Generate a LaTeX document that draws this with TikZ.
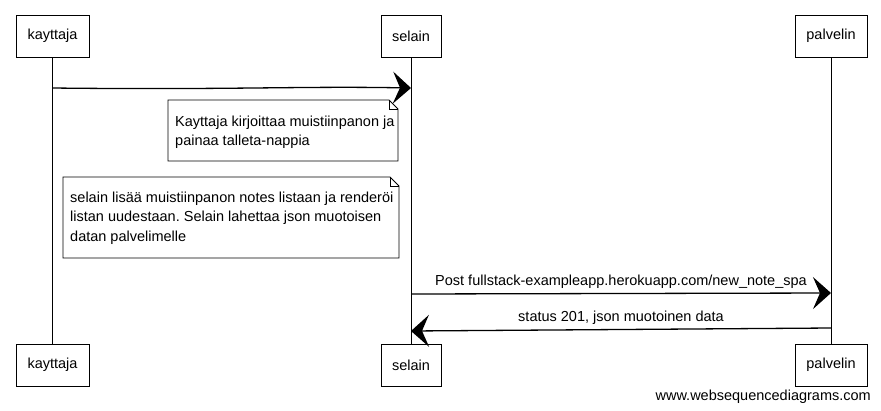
\documentclass[tikz,border=0pt]{standalone}
\usepackage{fontspec}
\setmainfont{Liberation Sans}
\usetikzlibrary{arrows.meta}
\frenchspacing
\begin{document}
\begin{tikzpicture}[x=1pt,y=-1pt,
  actor/.style={draw, line width=0.9pt, minimum height=42pt, inner sep=0pt, font=\fontsize{14.5}{17}\selectfont},
  life/.style={line width=0.8pt},
  msg/.style={line width=1.3pt, -{Stealth[length=18pt,width=32pt,inset=7pt]}},
  notetext/.style={inner sep=0pt, align=left, font=\fontsize{14.5}{19.5}\selectfont, anchor=west},
  noteline/.style={line width=0.8pt},
  lbl/.style={font=\fontsize{14.5}{17}\selectfont, inner sep=0pt}
]
\useasboundingbox (0,0) rectangle (881,410);
% actors top
\node[actor, minimum width=73pt] (kt) at (52.5,36) {kayttaja};
\node[actor, minimum width=60pt] (st) at (411,36) {selain};
\node[actor, minimum width=72pt] (pt) at (831,36) {palvelin};
% actors bottom
\node[actor, minimum width=73pt] (kb) at (52.5,365) {kayttaja};
\node[actor, minimum width=60pt] (sb) at (411,365) {selain};
\node[actor, minimum width=72pt] (pb) at (831,365) {palvelin};
% lifelines
\draw[life] (kt) -- (kb);
\draw[life] (st) -- (sb);
\draw[life] (pt) -- (pb);
% message 1
\coordinate (m1a) at (52.5,88);
\coordinate (m1b) at (411,88);
\draw[msg] (m1a) .. controls (230,90) and (300,86) .. (m1b);
% note 1
\draw[noteline] (168,100) -- (389,100) -- (398,109) -- (398,161) -- (168,161) -- cycle;
\draw[noteline] (389,100) -- (389,109) -- (398,109);
\node[notetext] (n1) at (175,132) {Kayttaja kirjoittaa muistiinpanon ja\\painaa talleta-nappia};
% note 2
\draw[noteline] (63,177) -- (390,177) -- (399,186) -- (399,258) -- (63,258) -- cycle;
\draw[noteline] (390,177) -- (390,186) -- (399,186);
\node[notetext] (n2) at (70,218)
  {selain lisää muistiinpanon notes listaan ja renderöi\\listan uudestaan. Selain lahettaa json muotoisen\\datan palvelimelle};
% message 3
\coordinate (m3a) at (411,294);
\coordinate (m3b) at (831,293);
\draw[msg] (m3a) -- node[lbl, above=4pt] (l3) {Post fullstack-exampleapp.herokuapp.com/new\_note\_spa} (m3b);
% message 4
\coordinate (m4a) at (831,328);
\coordinate (m4b) at (411,331);
\draw[msg] (m4a) -- node[lbl, above=4pt] (l4) {status 201, json muotoinen data} (m4b);
% watermark
\node[lbl, anchor=east] (wm) at (871,397) {www.websequencediagrams.com};
\end{tikzpicture}
\end{document}
